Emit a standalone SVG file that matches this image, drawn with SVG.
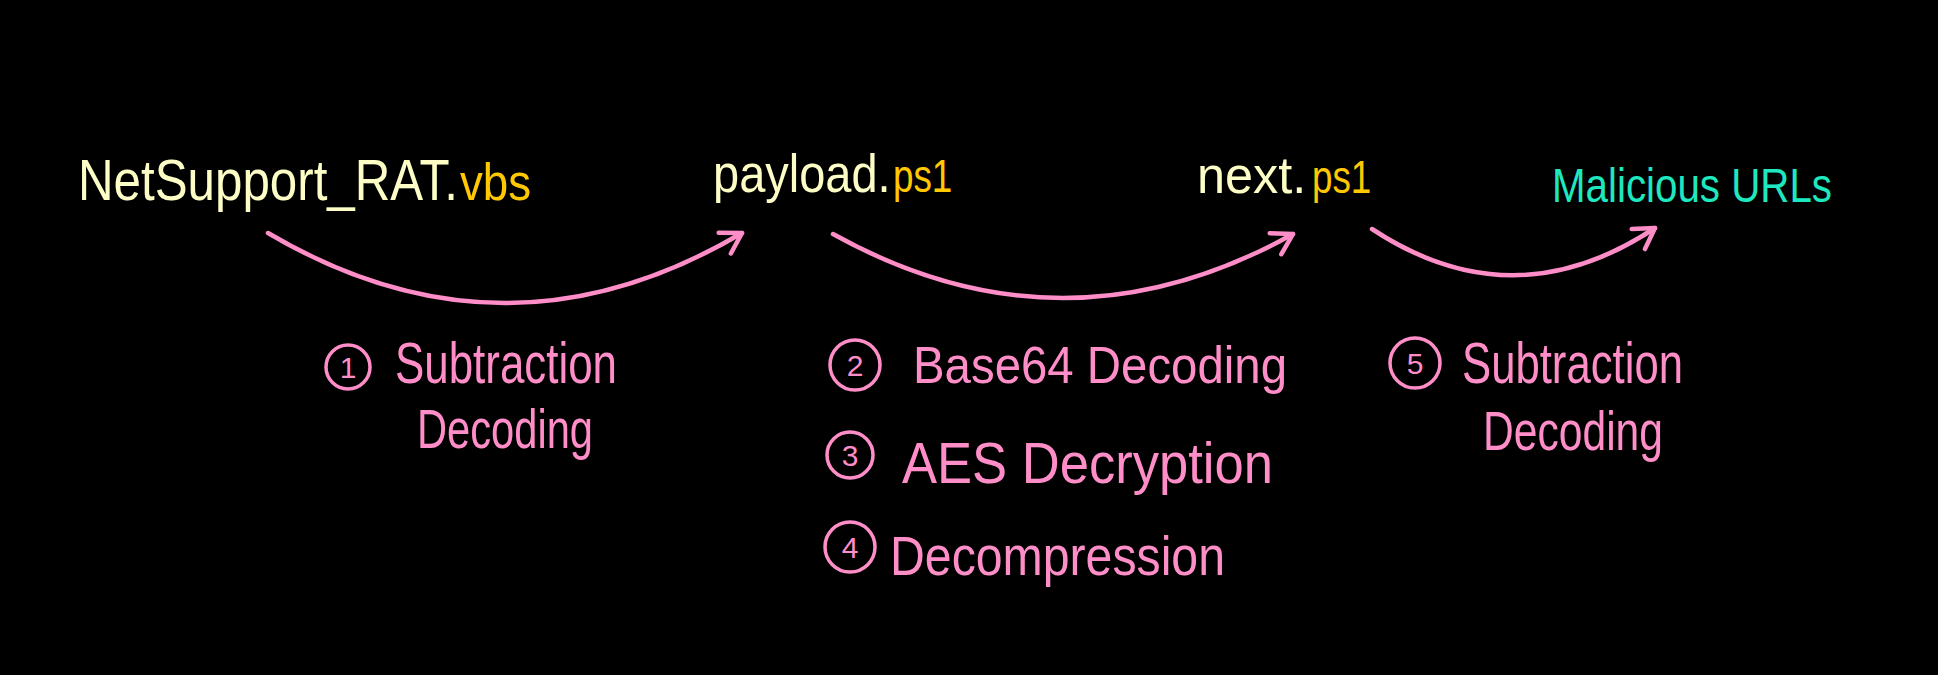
<svg xmlns="http://www.w3.org/2000/svg" width="1938" height="675" viewBox="0 0 1938 675">
  <defs>
    <marker id="ah" markerUnits="userSpaceOnUse" markerWidth="40" markerHeight="40" refX="0" refY="0" viewBox="-30 -20 40 40" orient="auto" overflow="visible">
      <path d="M -20 -12 L 0 0 L -20 12" fill="none" stroke="#ff8ec8" stroke-width="4.5" stroke-linecap="round" stroke-linejoin="round"/>
    </marker>
  </defs>
  <style>
    text { font-family: "Liberation Sans", Arial, sans-serif; }
    .cream { fill: #fdfdc6; }
    .yel { fill: #ffc800; }
    .teal { fill: #1ee8c0; }
    .pink { fill: #ff8ec8; }
    .num { fill: #ff8ec8; font-size: 30px; text-anchor: middle; }
    .ring { fill: none; stroke: #ff8ec8; stroke-width: 3.5; }
    .conn { fill: none; stroke: #ff8ec8; stroke-width: 4.5; stroke-linecap: round; marker-end: url(#ah); }
  </style>
  <rect x="0" y="0" width="1938" height="675" fill="#000000"/>

  <g id="node-vbs">
    <text class="cream" transform="translate(78,200) scale(0.85,1)" font-size="58">NetSupport_RAT.</text>
    <text class="yel" transform="translate(460,200) scale(0.88,1)" font-size="52">vbs</text>
  </g>
  <g id="node-payload">
    <text class="cream" transform="translate(713,192) scale(0.87,1)" font-size="54">payload.</text>
    <text class="yel" transform="translate(893,192) scale(0.8,1)" font-size="46">ps1</text>
  </g>
  <g id="node-next">
    <text class="cream" transform="translate(1197,193) scale(0.97,1)" font-size="52">next.</text>
    <text class="yel" transform="translate(1312,193) scale(0.8,1)" font-size="46">ps1</text>
  </g>
  <g id="node-urls">
    <text class="teal" x="1552" y="202" font-size="48" textLength="280" lengthAdjust="spacingAndGlyphs">Malicious URLs</text>
  </g>

  <g id="connectors">
    <path class="conn" d="M 268 233 Q 505 373 742 233"/>
    <path class="conn" d="M 833 234 Q 1063 362 1293 234"/>
    <path class="conn" d="M 1372 229 Q 1513 322 1655 228"/>
  </g>

  <g id="label-1">
    <circle class="ring" cx="348" cy="367" r="22"/>
    <text class="num" x="348" y="378">1</text>
    <text class="pink" x="395" y="383" font-size="58" textLength="222" lengthAdjust="spacingAndGlyphs">Subtraction</text>
    <text class="pink" x="417" y="448" font-size="56" textLength="176" lengthAdjust="spacingAndGlyphs">Decoding</text>
  </g>
  <g id="label-2">
    <circle class="ring" cx="855" cy="365" r="25"/>
    <text class="num" x="855" y="376">2</text>
    <text class="pink" x="913" y="383" font-size="52" textLength="374" lengthAdjust="spacingAndGlyphs">Base64 Decoding</text>
  </g>
  <g id="label-3">
    <circle class="ring" cx="850" cy="455" r="23"/>
    <text class="num" x="850" y="466">3</text>
    <text class="pink" x="902" y="483" font-size="58" textLength="371" lengthAdjust="spacingAndGlyphs">AES Decryption</text>
  </g>
  <g id="label-4">
    <circle class="ring" cx="850" cy="547" r="25"/>
    <text class="num" x="850" y="558">4</text>
    <text class="pink" x="890" y="575" font-size="56" textLength="335" lengthAdjust="spacingAndGlyphs">Decompression</text>
  </g>
  <g id="label-5">
    <circle class="ring" cx="1415" cy="363" r="25"/>
    <text class="num" x="1415" y="374">5</text>
    <text class="pink" x="1462" y="383" font-size="58" textLength="221" lengthAdjust="spacingAndGlyphs">Subtraction</text>
    <text class="pink" x="1483" y="450" font-size="56" textLength="180" lengthAdjust="spacingAndGlyphs">Decoding</text>
  </g>
</svg>
